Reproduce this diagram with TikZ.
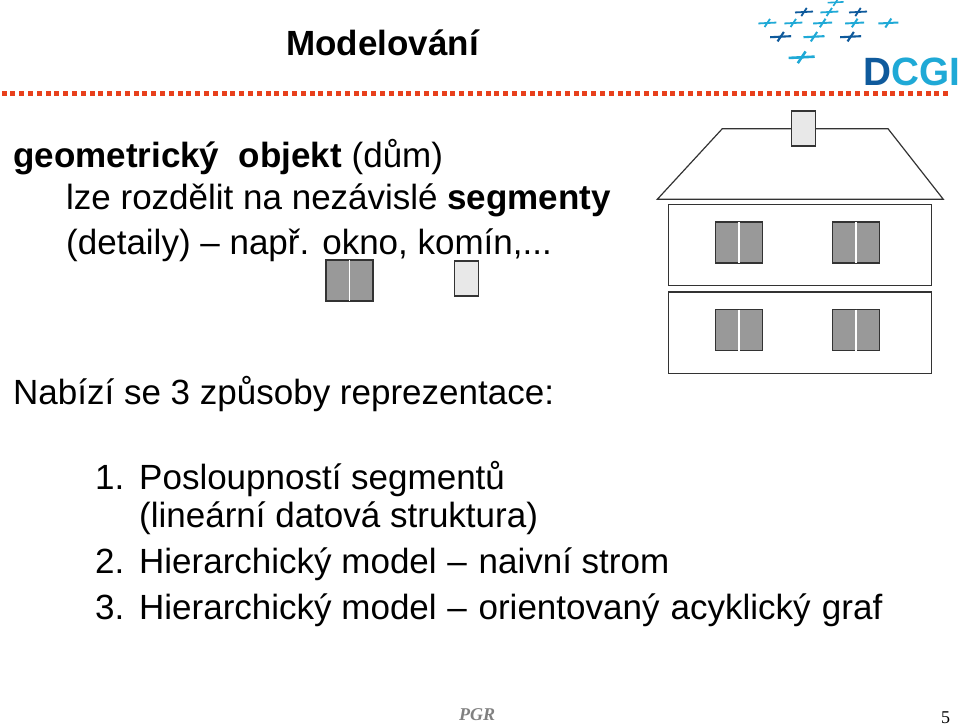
\documentclass[tikz,border=0pt]{standalone}
\usepackage{fontspec}
\setmainfont{Liberation Sans}
\newfontfamily\pgrfont{Liberation Serif}
\usepackage{tikz}
\definecolor{dotred}{HTML}{E8401C}
\definecolor{logodark}{HTML}{0F5A9C}
\definecolor{logolight}{HTML}{1FA9D6}
\definecolor{glassgray}{HTML}{999999}
\definecolor{chimneygray}{HTML}{E8E8E8}
\tikzset{
  outline/.style={draw=black!80, line width=1.2pt, line join=miter},
  slidetext/.style={anchor=base west, inner sep=0pt, font=\fontsize{35}{40}\selectfont},
}
\newcommand{\slideline}[3] {\node at (#1) (#2) [slidetext] {#3};}
\newcommand{\housewindow}[2] {
  \draw [outline, fill=glassgray] (#1,#2) rectangle ++(47,41);
  \draw [white, line width=1.8pt] (#1+23.5,#2) -- ++(0,41);
}
\newcommand{\housechimney}[2] {\draw [outline, fill=chimneygray] (#1,#2) rectangle ++(24,35);}
\newcommand{\logocross}[4] {
  \draw [#3, line width=#4*2pt] (#1-#4*10,#2+#4*0.5) -- (#1+#4*10,#2-#4*0.5);
  \draw [#3, line width=#4*2pt] (#1-#4*3,#2+#4*4.5) -- (#1+#4*3,#2-#4*4.5);
}

\begin{document}
\begin{tikzpicture}[x=1pt, y=-1pt]
\useasboundingbox (0,0) rectangle (959,725);

% logo
\logocross{835.7}{2.3}{logolight}{0.8};
\logocross{804}{12}{logodark}{0.9};
\logocross{829.3}{12}{logolight}{0.9};
\logocross{858}{12}{logodark}{0.9};
\logocross{767.3}{23}{logolight}{0.9};
\logocross{793.3}{23}{logolight}{0.9};
\logocross{822.7}{23}{logolight}{0.95};
\logocross{854.7}{23}{logolight}{0.95};
\logocross{888.3}{23}{logolight}{1};
\logocross{780.7}{36.7}{logodark}{1.05};
\logocross{814}{36.7}{logolight}{1.05};
\logocross{850.7}{36.7}{logodark}{1.05};
\logocross{801.7}{57.3}{logolight}{1.3};
\node at (863,85) (dcgi) [anchor=base west, inner sep=0pt, xscale=0.98, font=\fontsize{39.5}{39.5}\selectfont\bfseries] {\textcolor{logodark}{D}\textcolor{logolight}{CGI}};

% title rule
\foreach \i in {0,...,107} {
  \fill [dotred] (1.5+\i*8.8,91.5) rectangle ++(5,5);
}

% texts
\node at (286,56) (title) [anchor=base west, inner sep=0pt, font=\fontsize{35}{40}\selectfont\bfseries] {Modelování};
\slideline{13,167}{objekt}{\textbf{geometrický\ \ objekt} (dům)};
\slideline{66,209}{segmenty}{lze rozdělit na nezávislé \textbf{segmenty}};
\slideline{66,254}{detaily}{(detaily) -- např. okno, komín,...};
\slideline{13,404}{zpusoby}{Nabízí se 3 způsoby reprezentace:};
\slideline{95,489}{cisloA}{1.};
\slideline{139,489}{posloupnost}{Posloupností segmentů};
\slideline{139,527}{linearni}{(lineární datová struktura)};
\slideline{95,573}{cisloB}{2.};
\slideline{139,573}{naivni}{Hierarchický model\hspace{1pt} --\hspace{2pt} naivní strom};
\slideline{95,619}{cisloC}{3.};
\slideline{139,619}{acyklicky}{Hierarchický model\hspace{1pt} --\hspace{2pt} orientovaný\hspace{1.5pt} acyklický\hspace{1.5pt} graf};
\node at (459,720) (pgr) [anchor=base west, inner sep=0pt, text=black!50, font=\pgrfont\fontsize{18}{20}\selectfont\bfseries\itshape] {PGR};
\node at (941,723) (cislo) [anchor=base west, inner sep=0pt, font=\pgrfont\fontsize{18}{20}\selectfont] {5};

% samples
\housewindow{326}{260};
\housechimney{454.5}{261};

% house
\draw [outline] (657.3,199.3) -- (722.3,128.7) -- (888,128.7) -- (943.3,199.3) -- cycle;
\housechimney{791.5}{111};
\draw [outline] (668.7,204.3) rectangle (931.7,285.3);
\draw [outline] (668.7,292) rectangle (931.7,373.3);
\housewindow{715.7}{222};
\housewindow{832.5}{222};
\housewindow{715.7}{309.5};
\housewindow{832.5}{309.5};

\end{tikzpicture}
\end{document}
